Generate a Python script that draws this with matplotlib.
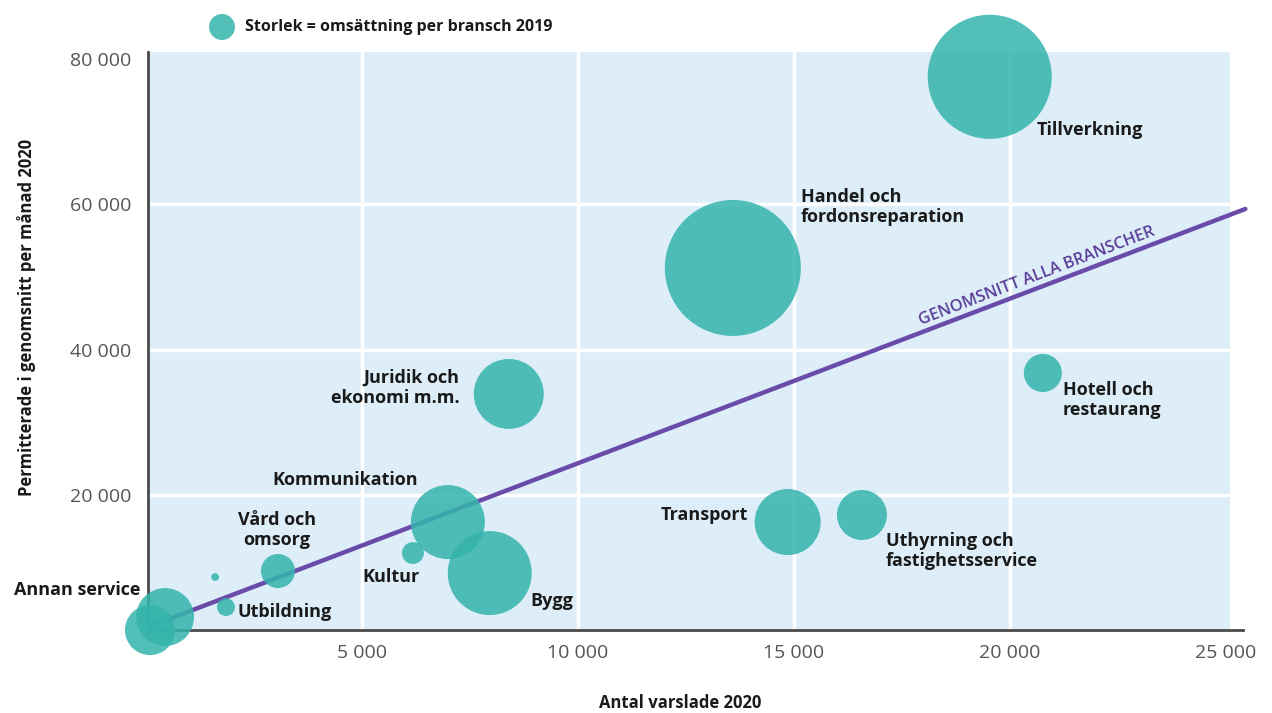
import matplotlib.pyplot as plt
from matplotlib.patches import Ellipse
from matplotlib.ticker import FuncFormatter

# branscher: antal varslade, permitterade per månad, omsättning (mdkr, uppskattad)
branscher = ['Tillverkning', 'Handel och\nfordonsreparation', 'Juridik och\nekonomi m.m.',
             'Hotell och\nrestaurang', 'Transport', 'Uthyrning och\nfastighetsservice',
             'Kommunikation', 'Vård och\nomsorg', 'Kultur', 'Bygg', 'Utbildning',
             'Annan service', '', '']
varslade = [19540, 13590, 8400, 20770, 14860, 16580, 6990, 3055, 6180, 7960, 1850, 440, 90, 1600]
permitterade = [77500, 51220, 33900, 36780, 16290, 17260, 16290, 9560, 12030, 9280, 4600, 3230, 1440, 8730]
omsattning = [1540, 1850, 490, 145, 436, 250, 548, 116, 48, 706, 32, 335, 250, 6]

# genomsnitt alla branscher (linjens ändpunkter)
snitt_x = [20, 25460]
snitt_y = [1800, 59330]

xticks = [5000, 10000, 15000, 20000, 25000]
yticks = [20000, 40000, 60000, 80000]

# label offsets in pixels from bubble centre and alignment
offsets = [(47, -53, 'left'), (68, 61, 'left'), (-49, 6, 'right'), (20, -27, 'left'),
           (-40, 7, 'right'), (24, -36, 'left'), (-103, 42, 'center'), (-1, 41, 'center'),
           (7, -24, 'right'), (41, -28, 'left'), (12, -5, 'left'), (-25, 27, 'right'),
           (0, 0, 'left'), (0, 0, 'left')]

plt.rcParams['font.family'] = ['Open Sans', 'DejaVu Sans']

teal = '#34B4AC'
bg = '#DDEEF9'
purple = '#6A4BAA'
spine = '#4A4A4A'

fig = plt.figure(figsize=(12.72, 7.13), dpi=100)
ax = fig.add_axes([0.1164, 0.1164, 0.977 - 0.1164, 0.927 - 0.1164])
ax.set_xlim(46, 25400)
ax.set_ylim(1450, 80900)

ax.axvspan(46, 25100, color=bg, zorder=0, lw=0)
for x in xticks[:-1]:
    ax.plot([x, x], [1450, 80900], color='white', lw=2.5, zorder=1)
for y in yticks[:-1]:
    ax.plot([46, 25100], [y, y], color='white', lw=2.5, zorder=1)

ax.plot(snitt_x, snitt_y, color=purple, lw=3.2, zorder=2, solid_capstyle='round', clip_on=False)

k = (2 * 68 * 0.72) ** 2 / 1850
sizes = [v * k for v in omsattning]
ax.scatter(varslade, permitterade, s=sizes, color=teal, alpha=0.85, lw=0, zorder=3, clip_on=False)

for name, x, y, (dx, dy, ha) in zip(branscher, varslade, permitterade, offsets):
    if name:
        ax.annotate(name, (x, y), xytext=(dx, dy), textcoords='offset pixels',
                    ha=ha, va='center', fontsize=13, fontweight='bold', color='#1a1a1a',
                    linespacing=1.2, zorder=5)

# line label, placed just above the line
lx = 20700
ly = snitt_y[0] + (lx - snitt_x[0]) * (snitt_y[1] - snitt_y[0]) / (snitt_x[1] - snitt_x[0])
ax.annotate('GENOMSNITT ALLA BRANSCHER', (lx, ly), xytext=(0, 4), textcoords='offset pixels',
            rotation=21, rotation_mode='anchor', ha='center', va='bottom',
            color='#5B3D99', fontsize=11.8, fontweight='semibold')

for s in ['top', 'right']:
    ax.spines[s].set_visible(False)
for s in ['left', 'bottom']:
    ax.spines[s].set_color(spine)
    ax.spines[s].set_linewidth(2)

fmt = FuncFormatter(lambda v, p: f'{int(v):,}'.replace(',', ' '))
ax.set_xticks(xticks)
ax.set_yticks(yticks)
ax.xaxis.set_major_formatter(fmt)
ax.yaxis.set_major_formatter(fmt)
ax.tick_params(length=0, labelsize=14, labelcolor='#555555')
ax.tick_params(axis='x', pad=10)
ax.tick_params(axis='y', pad=12)

fig.text(0.535, 0.014, 'Antal varslade 2020', ha='center', va='center',
         fontsize=12, fontweight='bold', color='#1a1a1a')
fig.text(0.021, 0.555, 'Permitterade i genomsnitt per månad 2020', rotation=90,
         ha='center', va='center', fontsize=12, fontweight='bold', color='#1a1a1a')

# legend
fig.add_artist(Ellipse((222 / 1272, 1 - 27 / 713), 26 / 1272, 26 / 713, color=teal,
                       alpha=0.85, transform=fig.transFigure, lw=0))
fig.text(245 / 1272, 1 - 27 / 713, 'Storlek = omsättning per bransch 2019', ha='left',
         va='center', fontsize=11.5, fontweight='bold', color='#1a1a1a')

fig.savefig('out.png', dpi=100)
